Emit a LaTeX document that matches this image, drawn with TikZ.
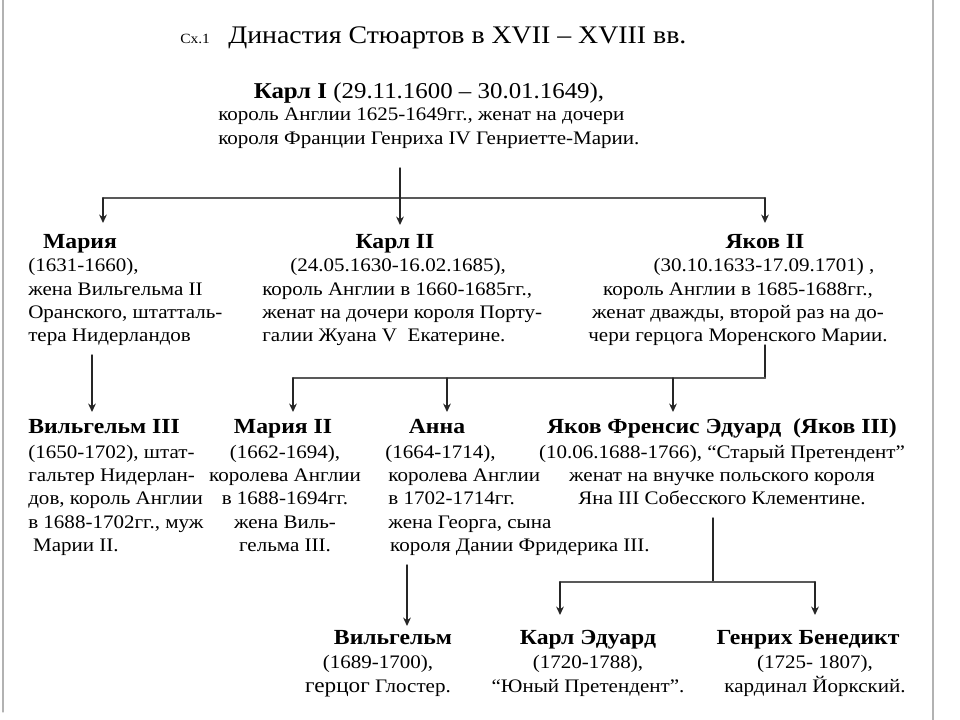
\documentclass[tikz,border=0pt]{standalone}
\usepackage{fontspec}
\setmainfont{Liberation Serif}[FakeStretch=1.1]
\usetikzlibrary{arrows.meta}

\begin{document}
\begin{tikzpicture}[x=0.025cm,y=-0.025cm,>={Stealth[length=6pt,width=5.5pt]},line cap=round,
  person/.style={inner sep=0pt,font=\fontsize{15.3}{18}\selectfont\bfseries},
  descr/.style={inner sep=0pt,font=\fontsize{13.6}{16.6}\selectfont},
  bus/.style={black!65,line width=1.6pt},
  link/.style={black!85,line width=1pt}]
\useasboundingbox (0,0) rectangle (960,720);
\draw[black!30,line width=0.8pt] (3,0) -- (3,712);
\draw[black!30,line width=0.8pt] (933,0) -- (933,720);
\node[anchor=base west,inner sep=0pt,font=\fontsize{10}{12}\selectfont] (sx) at (180,44) {Сх.1};
\node[anchor=base west,inner sep=0pt,font=\fontsize{18}{22}\selectfont] (title) at (228,44) {Династия Стюартов в XVII – XVIII вв.};
\node[anchor=base,inner sep=0pt,font=\fontsize{16.1}{18}\selectfont] (karlI) at (429,99) {\textbf{Карл I} (29.11.1600 – 30.01.1649),};
\node[descr,anchor=base west,align=left] (karlItxt) at (218,144.3) {король Англии 1625-1649гг., женат на дочери\\короля Франции Генриха IV Генриетте-Марии.};
\node[person,anchor=base] (maria) at (80,249) {Мария};
\node[descr,anchor=base west,align=left] (mariaTxt) at (28,342) {(1631-1660),\\жена Вильгельма II\\Оранского, штатталь-\\тера Нидерландов};
\node[person,anchor=base] (karlII) at (395,249) {Карл II};
\node[descr,anchor=base west,align=left] (karlIItxt) at (262,342) {\hspace*{0.7cm}(24.05.1630-16.02.1685),\\король Англии в 1660-1685гг.,\\женат на дочери короля Порту-\\галии Жуана V\ \ Екатерине.};
\node[person,anchor=base] (jakovII) at (765,249) {Яков II};
\node[descr,anchor=base,align=center] (jakovIItxt) at (738,342) {\hspace*{1.3cm}(30.10.1633-17.09.1701) ,\\король Англии в 1685-1688гг.,\\женат дважды, второй раз на до-\\чери герцога Моренского Марии.};
\node[person,anchor=base west] (wilhelmIII) at (28,434) {Вильгельм III};
\node[descr,anchor=base west,align=left] (wilhelmIIItxt) at (28,551.4) {(1650-1702), штат-\\гальтер Нидерлан-\\дов, король Англии\\в 1688-1702гг., муж\\\hspace*{0.12cm}Марии II.};
\node[person,anchor=base] (mariaII) at (283,434) {Мария II};
\node[descr,anchor=base,align=center] (mariaIItxt) at (285,551.4) {(1662-1694),\\королева Англии\\в 1688-1694гг.\\жена Виль-\\гельма III.};
\node[person,anchor=base] (anna) at (437,434) {Анна};
\node[descr,anchor=base west,align=left] (annaTxt) at (385,551.4) {(1664-1714),\\\hspace*{0.08cm}королева Англии\\\hspace*{0.08cm}в 1702-1714гг.\\\hspace*{0.08cm}жена Георга, сына\\\hspace*{0.12cm}короля Дании Фридерика III.};
\node[person,anchor=base] (jakovIII) at (722,434) {Яков Френсис Эдуард\ \ (Яков III)};
\node[descr,anchor=base,align=center] (jakovIIItxt) at (722,504.7) {(10.06.1688-1766), “Старый Претендент”\\женат на внучке польского короля\\Яна III Собесского Клементине.};
\node[person,anchor=base] (wilhelm) at (393,644) {Вильгельм};
\node[descr,anchor=base,align=center] (wilhelmTxt) at (378,692.3) {(1689-1700),\\{\fontsize{15}{16.6}\selectfont герцог} Глостер.};
\node[person,anchor=base] (karlEd) at (588,644) {Карл Эдуард};
\node[descr,anchor=base,align=center] (karlEdTxt) at (588,692.3) {(1720-1788),\\“Юный Претендент”.};
\node[person,anchor=base] (genrikh) at (808,644) {Генрих Бенедикт};
\node[descr,anchor=base,align=center] (genrikhTxt) at (815,692.3) {(1725- 1807),\\кардинал Йоркский.};
\coordinate (k1Out) at (400,168);
\coordinate (k1L) at (103,198);
\coordinate (k1R) at (765,198);
\coordinate (mariaIn) at (103,223);
\coordinate (karlIIin) at (400,225);
\coordinate (jakovIIin) at (765,223);
\draw[bus] (k1L) -- (k1R);
\draw[link,->] (k1Out) -- (karlIIin);
\draw[link,->] (k1L) -- (mariaIn);
\draw[link,->] (k1R) -- (jakovIIin);
\coordinate (mariaOut) at (92,355);
\coordinate (wilhelmIIIin) at (92,412);
\draw[link,->] (mariaOut) -- (wilhelmIIIin);
\coordinate (j2Out) at (765,345);
\coordinate (j2R) at (765,378);
\coordinate (j2L) at (293,378);
\coordinate (mariaIIin) at (293,412);
\coordinate (annaIn) at (447,412);
\coordinate (jakovIIIin) at (673,412);
\draw[link] (j2Out) -- (j2R);
\draw[bus] (j2L) -- (j2R);
\draw[link,->] (j2L) -- (mariaIIin);
\draw[link,->] (annaIn |- j2L) -- (annaIn);
\draw[link,->] (jakovIIIin |- j2L) -- (jakovIIIin);
\coordinate (annaOut) at (407,565);
\coordinate (wilhelmIn) at (407,626);
\draw[link,->] (annaOut) -- (wilhelmIn);
\coordinate (j3Out) at (713,518);
\coordinate (j3J) at (713,582);
\coordinate (j3L) at (560,582);
\coordinate (j3R) at (815,582);
\coordinate (karlEdIn) at (560,615);
\coordinate (genrikhIn) at (815,615);
\draw[link] (j3Out) -- (j3J);
\draw[bus] (j3L) -- (j3R);
\draw[link,->] (j3L) -- (karlEdIn);
\draw[link,->] (j3R) -- (genrikhIn);
\end{tikzpicture}
\end{document}
